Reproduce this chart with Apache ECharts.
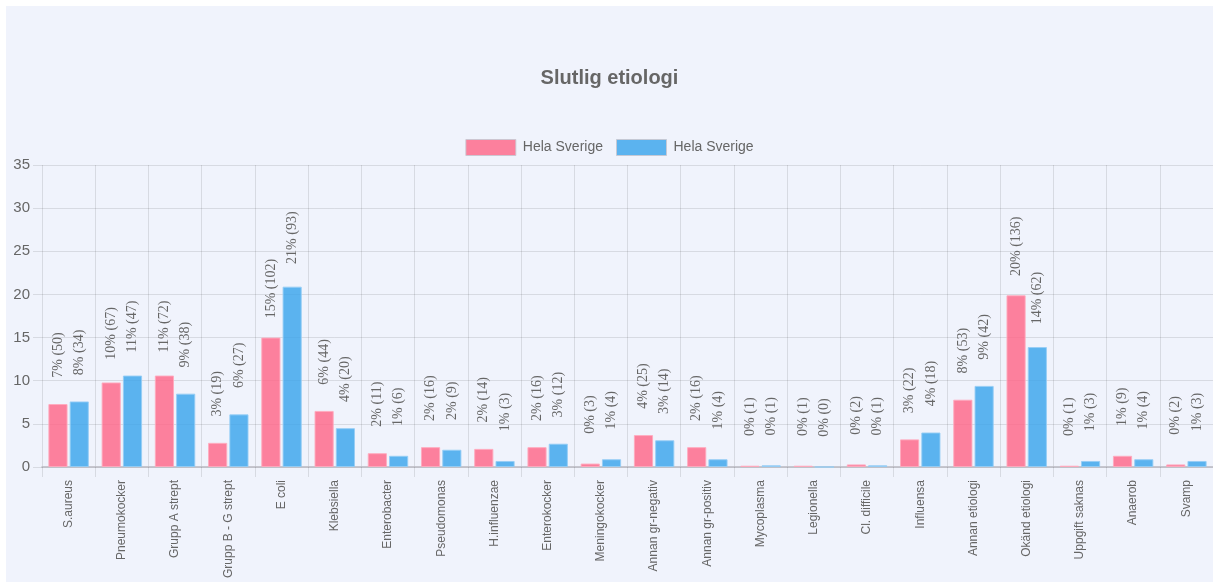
<!DOCTYPE html>
<html>
<head>
<meta charset="utf-8">
<script src="https://cdn.jsdelivr.net/npm/echarts@6/dist/echarts.min.js"></script>
<style>
html,body{margin:0;padding:0;background:#ffffff;width:1213px;height:582px;overflow:hidden;}
#chart{position:absolute;left:6px;top:6px;width:1207px;height:576px;background:#f0f3fc;}
</style>
</head>
<body>
<div id="chart"></div>
<script>
const categories = ["S.aureus","Pneumokocker","Grupp A strept","Grupp B - G strept","E coli","Klebsiella","Enterobacter","Pseudomonas","H.influenzae","Enterokocker","Meningokocker","Annan gr-negativ","Annan gr-positiv","Mycoplasma","Legionella","Cl. difficile","Influensa","Annan etiologi","Okänd etiologi","Uppgift saknas","Anaerob","Svamp"];
const seriesNames = ["Hela Sverige","Hela Sverige"];
const redValues = [7.3,9.8,10.6,2.8,15.0,6.5,1.6,2.3,2.1,2.3,0.4,3.7,2.3,0.15,0.15,0.3,3.2,7.8,19.9,0.15,1.3,0.3];
const redPct    = [7,10,11,3,15,6,2,2,2,2,0,4,2,0,0,0,3,8,20,0,1,0];
const redCount  = [50,67,72,19,102,44,11,16,14,16,3,25,16,1,1,2,22,53,136,1,9,2];
const blueValues = [7.6,10.6,8.5,6.1,20.9,4.5,1.3,2.0,0.7,2.7,0.9,3.1,0.9,0.2,0,0.2,4.0,9.4,13.9,0.7,0.9,0.7];
const bluePct    = [8,11,9,6,21,4,1,2,1,3,1,3,1,0,0,0,4,9,14,1,1,1];
const blueCount  = [34,47,38,27,93,20,6,9,3,12,4,14,4,1,0,1,18,42,62,3,4,3];
const yTicks = {min:0, max:35, interval:5};

const chart = echarts.init(document.getElementById('chart'), null, {renderer:'canvas'});
const gridCol = 'rgba(0,0,0,0.1)';
function labelCfg(pcts, counts){
  return {
    show:true,
    position:'top',
    distance:49,
    rotate:90,
    align:'center',
    verticalAlign:'middle',
    fontFamily:'"Liberation Serif", "DejaVu Serif", serif',
    fontSize:14,
    color:'#666666',
    formatter:function(p){ return pcts[p.dataIndex] + '% (' + counts[p.dataIndex] + ')'; }
  };
}
chart.setOption({
  animation:false,
  title:{
    text:'Slutlig etiologi',
    left:'center',
    top:57,
    textStyle:{fontFamily:'"Liberation Sans", Arial, sans-serif',fontSize:20,fontWeight:'bold',color:'#666666'}
  },
  legend:{
    top:128,
    left:'center',
    itemWidth:50,
    itemHeight:16,
    itemGap:13,
    icon:'rect',
    textStyle:{fontFamily:'"Liberation Sans", Arial, sans-serif',fontSize:14,color:'#666666',padding:[0,0,0,2]},
    data:[
      {name:'s0', itemStyle:{borderColor:'rgba(200,200,210,0.9)',borderWidth:1}},
      {name:'s1', itemStyle:{borderColor:'rgba(200,200,210,0.9)',borderWidth:1}}
    ],
    formatter:function(n){ return n==='s0'?seriesNames[0]:seriesNames[1]; }
  },
  grid:{left:36, top:159, width:1173, height:302, containLabel:false},
  xAxis:{
    type:'category',
    data:categories,
    boundaryGap:true,
    axisLine:{show:true,lineStyle:{color:'#b8b8c0',width:1.5}},
    axisTick:{show:true,length:10,lineStyle:{color:gridCol}},
    splitLine:{show:true,lineStyle:{color:gridCol}},
    axisLabel:{rotate:90,interval:0,margin:13,fontFamily:'"Liberation Sans", Arial, sans-serif',fontSize:12,color:'#666666'}
  },
  yAxis:{
    type:'value',
    min:yTicks.min,max:yTicks.max,interval:yTicks.interval,
    axisLine:{show:false},
    axisTick:{show:true,length:9,lineStyle:{color:gridCol}},
    splitLine:{show:true,lineStyle:{color:gridCol}},
    axisLabel:{margin:12,fontFamily:'"Liberation Sans", Arial, sans-serif',fontSize:15,color:'#666666'}
  },
  series:[
    {
      name:'s0',type:'bar',data:redValues,
      barGap:'11%',barCategoryGap:'24%',
      itemStyle:{color:'rgba(255,99,132,0.8)',borderColor:'rgba(255,170,190,0.9)',borderWidth:1},
      label:labelCfg(redPct,redCount)
    },
    {
      name:'s1',type:'bar',data:blueValues,
      barGap:'11%',barCategoryGap:'24%',
      itemStyle:{color:'rgba(54,162,235,0.8)',borderColor:'rgba(150,205,245,0.9)',borderWidth:1},
      label:labelCfg(bluePct,blueCount)
    }
  ]
});
</script>
</body>
</html>
